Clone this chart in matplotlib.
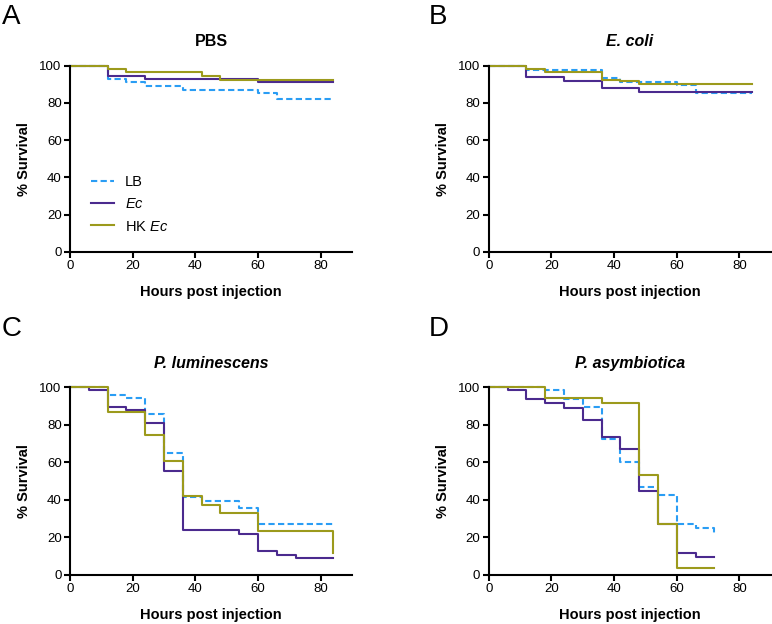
import matplotlib
matplotlib.use('Agg')
import matplotlib.pyplot as plt

plt.rcParams['font.family'] = ['Liberation Sans', 'DejaVu Sans']
plt.rcParams['mathtext.fontset'] = 'custom'
plt.rcParams['mathtext.rm'] = 'Liberation Sans'
plt.rcParams['mathtext.it'] = 'Liberation Sans:italic'

# group labels
groups = ['LB', '$\\mathit{Ec}$', 'HK $\\mathit{Ec}$']

# A - PBS
pbs_lb_t = [0, 12, 18, 24, 36, 60, 66, 84]
pbs_lb_s = [100, 92.8, 91, 89, 87.1, 85.3, 82.1, 82.1]
pbs_ec_t = [0, 12, 24, 60, 84]
pbs_ec_s = [100, 94.3, 92.8, 91, 91]
pbs_hk_t = [0, 12, 18, 42, 48, 84]
pbs_hk_s = [100, 98.2, 96.4, 94.3, 92.3, 92.3]

# B - E. coli
eco_lb_t = [0, 12, 36, 42, 60, 66, 84]
eco_lb_s = [100, 97.9, 93.6, 91.5, 89.4, 85.1, 85.1]
eco_ec_t = [0, 12, 24, 36, 48, 84]
eco_ec_s = [100, 94.1, 92, 87.8, 86, 86]
eco_hk_t = [0, 12, 18, 36, 42, 48, 84]
eco_hk_s = [100, 98.2, 96.4, 92.5, 91.6, 90.2, 90.2]

# C - P. luminescens
plu_lb_t = [0, 12, 18, 24, 30, 36, 42, 54, 60, 84]
plu_lb_s = [100, 96, 94, 85.4, 64.7, 41.6, 39.4, 35.4, 27, 27]
plu_ec_t = [0, 6, 12, 18, 24, 30, 36, 54, 60, 66, 72, 84]
plu_ec_s = [100, 98.4, 89.5, 87.7, 80.6, 55.4, 23.8, 21.5, 12.8, 10.5, 8.7, 8.7]
plu_hk_t = [0, 12, 24, 30, 36, 42, 48, 60, 84, 84]
plu_hk_s = [100, 86.5, 74.4, 60.7, 41.9, 37.1, 32.7, 23.5, 23.5, 11.4]

# D - P. asymbiotica
pas_lb_t = [0, 18, 24, 30, 36, 42, 48, 54, 60, 66, 72, 72]
pas_lb_s = [100, 98.4, 93.6, 89.5, 72.1, 60.2, 46.9, 42.5, 26.8, 25, 25, 22.4]
pas_ec_t = [0, 6, 12, 18, 24, 30, 36, 42, 48, 54, 60, 66, 72]
pas_ec_s = [100, 98.4, 93.6, 91.3, 89, 82.4, 73.5, 66.8, 44.8, 26.8, 11.4, 9.3, 9.3]
pas_hk_t = [0, 18, 36, 48, 54, 60, 72]
pas_hk_s = [100, 94.3, 91.6, 53.1, 26.8, 3.4, 3.4]

panels = [
    ('A', 'PBS', False, (pbs_lb_t, pbs_lb_s), (pbs_ec_t, pbs_ec_s), (pbs_hk_t, pbs_hk_s)),
    ('B', 'E. coli', True, (eco_lb_t, eco_lb_s), (eco_ec_t, eco_ec_s), (eco_hk_t, eco_hk_s)),
    ('C', 'P. luminescens', True, (plu_lb_t, plu_lb_s), (plu_ec_t, plu_ec_s), (plu_hk_t, plu_hk_s)),
    ('D', 'P. asymbiotica', True, (pas_lb_t, pas_lb_s), (pas_ec_t, pas_ec_s), (pas_hk_t, pas_hk_s)),
]

colors = ['#2A9DF4', '#4B2A8E', '#9C9A1C']
styles = [(0, (3, 1.6)), '-', '-']

# axes boxes in pixels: left, bottom(px from top), width, height
boxes = [(70, 252, 282, 186.3), (488.7, 252, 282, 186.3),
         (70, 574.7, 282, 187.7), (488.7, 574.7, 282, 187.7)]
letter_pos = [(2, 4), (429, 4), (2, 316), (429, 316)]

W, H = 772, 624
fig = plt.figure(figsize=(W / 100, H / 100), dpi=100)

for (letter, title, ital, lb, ec, hk), box, lp in zip(panels, boxes, letter_pos):
    l, b, w, h = box
    ax = fig.add_axes([l / W, 1 - b / H, w / W, h / H])
    for (t, s), c, ls, lab in zip([lb, ec, hk], colors, styles, groups):
        ax.plot(t, s, drawstyle='steps-post', color=c, linestyle=ls, lw=1.5,
                label=lab, clip_on=False)
    ax.set_xlim(0, 90)
    ax.set_ylim(0, 100)
    ax.set_xticks([0, 20, 40, 60, 80])
    ax.set_yticks([0, 20, 40, 60, 80, 100])
    ax.spines['top'].set_visible(False)
    ax.spines['right'].set_visible(False)
    for sp in ['left', 'bottom']:
        ax.spines[sp].set_linewidth(1.5)
    ax.tick_params(direction='out', length=4, width=1.5, labelsize=9.5, pad=2)
    ax.set_title(title, fontsize=11.5, fontweight='bold',
                 fontstyle='italic' if ital else 'normal', pad=14)
    ax.set_xlabel('Hours post injection', fontsize=10.5, fontweight='bold', labelpad=9)
    ax.set_ylabel('% Survival', fontsize=10.5, fontweight='bold', labelpad=6)
    fig.text(lp[0] / W, 1 - lp[1] / H, letter, fontsize=20, ha='left', va='top')
    if letter == 'A':
        ax.legend(loc='center left', bbox_to_anchor=(0.075, 0.255), frameon=False,
                  fontsize=10.5, handlelength=1.6, handletextpad=0.7,
                  labelspacing=0.55, borderpad=0, borderaxespad=0)

fig.savefig('out.png', dpi=100)
